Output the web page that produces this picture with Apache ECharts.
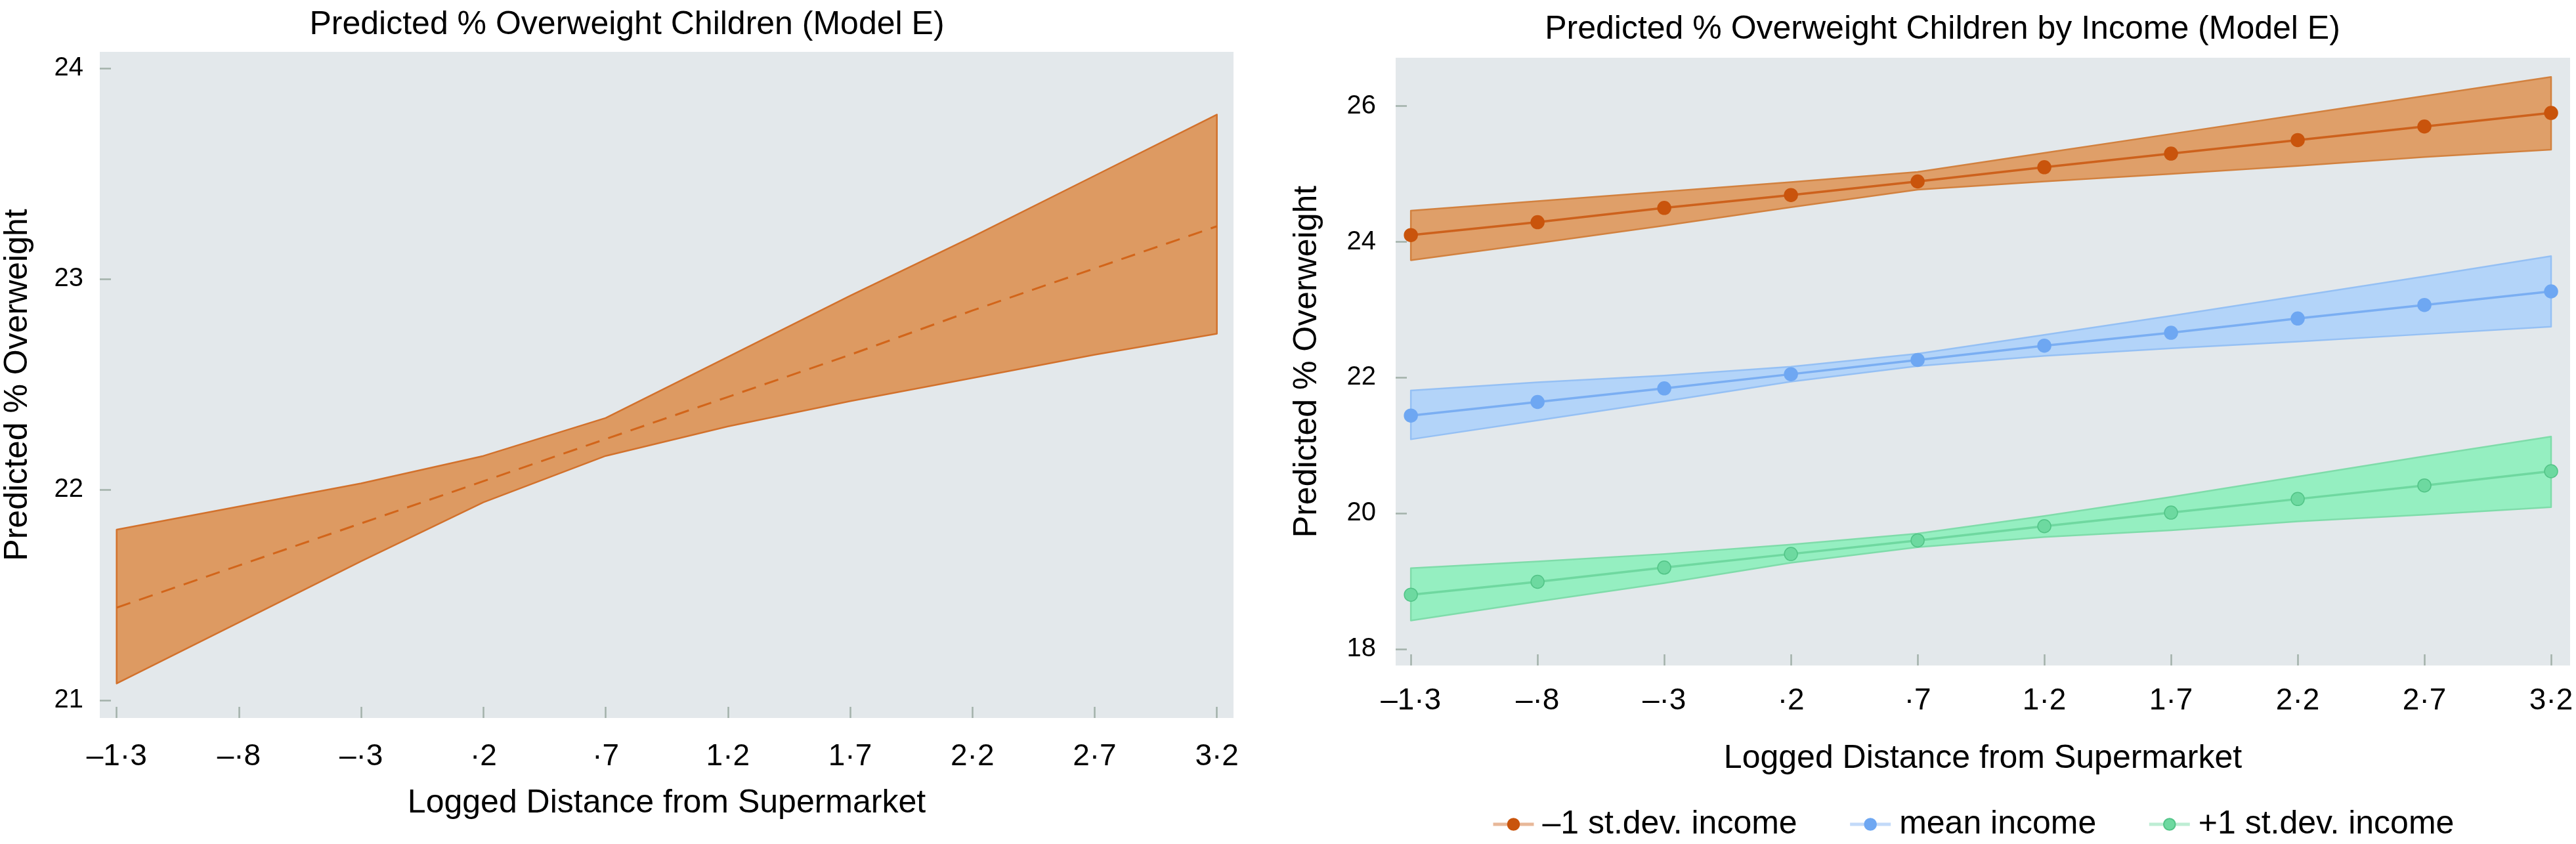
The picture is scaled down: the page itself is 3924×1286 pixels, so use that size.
<!DOCTYPE html>
<html>
<head>
<meta charset="utf-8">
<script src="https://cdn.jsdelivr.net/npm/echarts@6/dist/echarts.min.js"></script>
<style>
html,body{margin:0;padding:0;background:#fff;}
#chart{width:3924px;height:1286px;}
</style>
</head>
<body>
<div id="chart"></div>
<script>
// ---- data ----
const xValues = [-1.3, -0.8, -0.3, 0.2, 0.7, 1.2, 1.7, 2.2, 2.7, 3.2];
const xTickLabels = ['–1·3', '–·8', '–·3', '·2', '·7', '1·2', '1·7', '2·2', '2·7', '3·2'];
const leftYTicks = [21, 22, 23, 24];
const rightYTicks = [18, 20, 22, 24, 26];

const leftTitle = 'Predicted % Overweight Children (Model E)';
const rightTitle = 'Predicted % Overweight Children by Income (Model E)';
const xTitle = 'Logged Distance from Supermarket';
const yTitle = 'Predicted % Overweight';
const seriesNames = ['–1 st.dev. income', 'mean income', '+1 st.dev. income'];

// Left panel (Model E)
const overallPredicted = [21.44, 21.64, 21.84, 22.04, 22.24, 22.44, 22.64, 22.85, 23.05, 23.25];
const overallLower = [21.08, 21.37, 21.66, 21.94, 22.16, 22.30, 22.42, 22.53, 22.64, 22.74];
const overallUpper = [21.81, 21.92, 22.03, 22.16, 22.34, 22.63, 22.92, 23.20, 23.49, 23.78];

// Right panel (by income)
const lowIncome = [24.10, 24.29, 24.50, 24.69, 24.89, 25.10, 25.30, 25.50, 25.70, 25.90];
const lowIncomeLower = [23.73, 23.98, 24.24, 24.51, 24.77, 24.89, 25.00, 25.12, 25.25, 25.36];
const lowIncomeUpper = [24.46, 24.60, 24.74, 24.88, 25.03, 25.31, 25.59, 25.87, 26.15, 26.43];

const meanIncome = [21.44, 21.64, 21.84, 22.05, 22.26, 22.47, 22.66, 22.87, 23.07, 23.27];
const meanIncomeLower = [21.09, 21.37, 21.65, 21.94, 22.17, 22.32, 22.43, 22.53, 22.64, 22.75];
const meanIncomeUpper = [21.81, 21.93, 22.03, 22.16, 22.35, 22.63, 22.91, 23.20, 23.49, 23.79];

const highIncome = [18.80, 18.99, 19.20, 19.40, 19.60, 19.81, 20.01, 20.21, 20.41, 20.62];
const highIncomeLower = [18.42, 18.70, 18.97, 19.27, 19.50, 19.65, 19.75, 19.88, 19.98, 20.09];
const highIncomeUpper = [19.19, 19.29, 19.40, 19.54, 19.70, 19.96, 20.24, 20.54, 20.84, 21.13];

// ---- chart ----
const FONT = 'Liberation Sans, Arial, Helvetica, sans-serif';
const chart = echarts.init(document.getElementById('chart'), null, {renderer: 'canvas'});

function xLabel(v) {
  const i = xValues.findIndex(x => Math.abs(x - v) < 1e-6);
  return i >= 0 ? xTickLabels[i] : '';
}

function bandSeries(name, xi, yi, lower, upper, fill, stroke) {
  return {
    name: name,
    type: 'custom',
    xAxisIndex: xi,
    yAxisIndex: yi,
    silent: true,
    z: 1,
    data: xValues.map((x, i) => [x, lower[i], upper[i]]),
    renderItem: function (params, api) {
      if (params.dataIndex !== 0) return null;
      const pts = [];
      for (let i = 0; i < xValues.length; i++) pts.push(api.coord([xValues[i], upper[i]]));
      for (let i = xValues.length - 1; i >= 0; i--) pts.push(api.coord([xValues[i], lower[i]]));
      return {
        type: 'polygon',
        shape: {points: pts},
        style: {fill: fill, stroke: stroke, lineWidth: 2.5, lineJoin: 'round'}
      };
    }
  };
}

function lineSeries(name, values, color, pointColor, border) {
  return {
    name: name,
    type: 'line',
    xAxisIndex: 1,
    yAxisIndex: 1,
    z: 3,
    data: xValues.map((x, i) => [x, values[i]]),
    symbol: 'circle',
    symbolSize: 20,
    showSymbol: true,
    lineStyle: {color: color, width: 3.5},
    itemStyle: {color: pointColor, borderColor: border, borderWidth: 1.5},
    emphasis: {disabled: true},
    animation: false
  };
}

const tickStyle = {color: '#a3b1aa', width: 2.5};

function xAxisCfg(gridIndex, min, max, margin, nameGap) {
  return {
    type: 'value', gridIndex: gridIndex, min: min, max: max,
    axisLine: {show: false, onZero: false},
    splitLine: {show: false},
    axisTick: {show: true, inside: true, length: 17, lineStyle: tickStyle, customValues: xValues},
    axisLabel: {customValues: xValues, formatter: xLabel, margin: margin,
      fontSize: 46, color: '#000', fontFamily: FONT},
    name: xTitle, nameLocation: 'middle', nameGap: nameGap,
    nameTextStyle: {fontSize: 50, color: '#000', fontFamily: FONT}
  };
}

function yAxisCfg(gridIndex, min, max, ticks, margin, nameGap) {
  return {
    type: 'value', gridIndex: gridIndex, min: min, max: max,
    axisLine: {show: false, onZero: false},
    splitLine: {show: false},
    axisTick: {show: true, inside: true, length: 17, lineStyle: tickStyle, customValues: ticks},
    axisLabel: {customValues: ticks, formatter: v => String(v), margin: margin,
      fontSize: 40, color: '#000', fontFamily: FONT},
    name: yTitle, nameLocation: 'middle', nameRotate: 90, nameGap: nameGap,
    nameTextStyle: {fontSize: 50, color: '#000', fontFamily: FONT}
  };
}

const option = {
  backgroundColor: '#ffffff',
  animation: false,
  title: [
    {text: leftTitle, left: 950, top: 8, textAlign: 'center',
     textStyle: {fontSize: 50, fontWeight: 'normal', color: '#000', fontFamily: FONT}},
    {text: rightTitle, left: 2954, top: 15, textAlign: 'center',
     textStyle: {fontSize: 50, fontWeight: 'normal', color: '#000', fontFamily: FONT}}
  ],
  grid: [
    {left: 152, top: 79, width: 1727, height: 1015, show: true, backgroundColor: '#e3e8eb', borderWidth: 0},
    {left: 2126, top: 88, width: 1789, height: 926, show: true, backgroundColor: '#e3e8eb', borderWidth: 0}
  ],
  xAxis: [
    xAxisCfg(0, -1.369, 3.268, 36, 105),
    xAxisCfg(1, -1.360, 3.275, 31, 117)
  ],
  yAxis: [
    yAxisCfg(0, 20.916, 24.078, leftYTicks, 25, 100),
    yAxisCfg(1, 17.757, 26.713, rightYTicks, 30, 110)
  ],
  legend: {
    data: seriesNames,
    left: 2267,
    top: 1226,
    itemWidth: 62,
    itemHeight: 22,
    itemGap: 78,
    textStyle: {fontSize: 50, color: '#000', fontFamily: FONT, padding: [0, 0, 0, 8]},
    lineStyle: {opacity: 0.45, width: 5},
    selectedMode: false
  },
  series: [
    // left panel
    bandSeries('overallBand', 0, 0, overallLower, overallUpper, '#dd9a62', '#d2712c'),
    {
      name: 'overall', type: 'line', xAxisIndex: 0, yAxisIndex: 0, z: 3,
      data: xValues.map((x, i) => [x, overallPredicted[i]]),
      showSymbol: false, symbol: 'none',
      lineStyle: {color: '#d2651a', width: 3, type: [22, 14]},
      animation: false
    },
    // right panel bands
    bandSeries('lowBand', 1, 1, lowIncomeLower, lowIncomeUpper, '#df9f69', '#d2813f'),
    bandSeries('meanBand', 1, 1, meanIncomeLower, meanIncomeUpper, '#b3d4f9', '#95c0f4'),
    bandSeries('highBand', 1, 1, highIncomeLower, highIncomeUpper, '#95efc1', '#7fdcaa'),
    // right panel lines
    lineSeries(seriesNames[0], lowIncome, '#cd611c', '#c9540c', '#c9540c'),
    lineSeries(seriesNames[1], meanIncome, '#7aaef2', '#6ea7f2', '#6ea7f2'),
    lineSeries(seriesNames[2], highIncome, '#6fd8a0', '#6dd9a0', '#52c487')
  ]
};
chart.setOption(option);
</script>
</body>
</html>
